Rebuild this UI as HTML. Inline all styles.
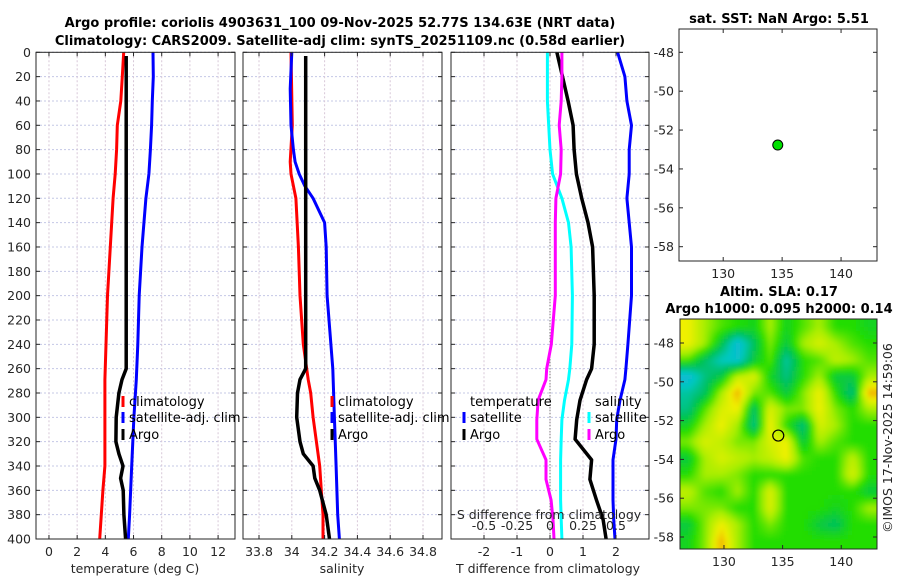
<!DOCTYPE html>
<html><head><meta charset="utf-8"><style>
html,body{margin:0;padding:0;background:#fff;}
svg{display:block;font-family:"DejaVu Sans","Liberation Sans",sans-serif;}
.t{font-size:12.5px;fill:#262626;}
.b{font-size:13px;font-weight:bold;fill:#000;}
.lg{font-size:13px;fill:#000;}
</style></head><body>
<svg id="fig" width="900" height="580" viewBox="0 0 900 580">
<defs>
<filter id="blur" x="-10%" y="-10%" width="120%" height="120%"><feGaussianBlur stdDeviation="2"/></filter>
<clipPath id="mapclip"><rect x="680" y="319" width="197" height="230"/></clipPath>
</defs>
<text class="b" x="340" y="27" text-anchor="middle">Argo profile: coriolis 4903631_100 09-Nov-2025 52.77S 134.63E (NRT data)</text>
<text class="b" x="340" y="45" text-anchor="middle">Climatology: CARS2009. Satellite-adj clim: synTS_20251109.nc (0.58d earlier)</text>
<text class="b" x="779" y="23" text-anchor="middle">sat. SST: NaN Argo: 5.51</text>
<text class="b" x="779" y="296" text-anchor="middle">Altim. SLA: 0.17</text>
<text class="b" x="779" y="313" text-anchor="middle">Argo h1000: 0.095 h2000: 0.14</text>
<text class="t" transform="translate(892,438) rotate(-90)" text-anchor="middle">©IMOS 17-Nov-2025 14:59:06</text>
<g id="plots"></g>
</svg>
<script>
// ---- data ----
const depthTicks = [0,20,40,60,80,100,120,140,160,180,200,220,240,260,280,300,320,340,360,380,400];
const tTicks = [0,2,4,6,8,10,12];
const sTicks = [33.8,34,34.2,34.4,34.6,34.8];
const sTickLabels = ["33.8","34","34.2","34.4","34.6","34.8"];
const dTTicks = [-2,-1,0,1,2];
const dSTicks = [-0.5,-0.25,0,0.25,0.5];
const dSTickLabels = ["-0.5","-0.25","0","0.25","0.5"];
const lonTicks = [130,135,140];
const latTicks = [-48,-50,-52,-54,-56,-58];

const tClimDepth = [0,20,40,60,80,100,120,160,200,240,269,340,360,380,400];
const tClim = [5.3,5.2,5.1,4.85,4.8,4.7,4.55,4.35,4.15,4.05,3.97,3.97,3.83,3.71,3.6];
const tSatDepth = [0,20,40,60,80,100,120,160,200,240,269,300,340,380,400];
const tSat = [7.38,7.4,7.33,7.28,7.2,7.09,6.88,6.6,6.4,6.3,6.2,6.03,5.87,5.72,5.63];
const tArgoDepth = [3,260,269,280,300,320,330,340,350,360,380,400];
const tArgo = [5.48,5.48,5.18,4.96,4.77,4.75,4.96,5.25,5.08,5.27,5.32,5.44];

const sClimDepth = [0,60,90,100,120,160,200,240,269,280,300,320,340,360,380,400];
const sClim = [33.995,34.003,33.99,33.995,34.025,34.04,34.05,34.07,34.1,34.115,34.13,34.15,34.17,34.18,34.19,34.19];
const sSatDepth = [0,30,60,80,90,100,110,120,140,160,200,260,300,340,380,400];
const sSat = [34.0,33.99,33.995,34.01,34.02,34.045,34.08,34.13,34.2,34.21,34.215,34.25,34.26,34.27,34.28,34.29];
const sArgoDepth = [3,260,269,280,300,320,330,340,350,360,380,400];
const sArgo = [34.085,34.085,34.05,34.035,34.03,34.05,34.07,34.13,34.14,34.17,34.21,34.23];

const diffDepth = [0,20,40,60,80,100,120,140,160,200,240,260,269,286,302,318,335,351,368,384,400];
const dTSat = [2.05,2.27,2.33,2.47,2.4,2.4,2.33,2.4,2.47,2.47,2.36,2.3,2.27,2.12,2.02,2.0,1.91,1.91,1.91,1.93,1.97];
const dTArgo = [0.21,0.38,0.55,0.7,0.73,0.8,0.96,1.15,1.29,1.34,1.34,1.26,1.11,0.91,0.81,0.76,1.26,1.21,1.41,1.61,1.7];
const dSSat = [-0.02,-0.02,-0.02,-0.01,0,0.02,0.09,0.14,0.16,0.17,0.165,0.15,0.14,0.11,0.09,0.085,0.08,0.08,0.08,0.085,0.09];
const dSArgo = [0.09,0.09,0.085,0.07,0.085,0.08,0.045,0.04,0.04,0.04,0.01,-0.025,-0.03,-0.09,-0.1,-0.1,-0.03,-0.03,0.008,0.023,0.03];

const argoLon = [134.63];
const argoLat = [-52.77];
const slaGrid = [
[0.6,0.3,0.1,0,-0.1,0.3,-0.1,0.1,0.3,0,0,-0.1],
[0.6,0.3,-0.2,-0.8,-0.3,0.2,-0.2,0.3,0.5,0.3,0.1,0],
[0.1,-0.3,-0.6,-0.7,-0.2,0.1,-0.5,0,0.1,0.4,0.3,0.1],
[-0.8,-0.4,-0.2,0.4,0.5,-0.1,-0.4,0,0.3,-0.2,-0.2,0.3],
[-0.5,-0.3,0.3,0.8,0.2,0.1,-0.2,0.2,0.6,0,-0.4,0.8],
[-0.4,0.1,0.5,0.6,-0.3,0.5,0.2,0.2,0.6,0.2,0,0.3],
[-0.1,0.3,0.6,0.3,-0.4,0.6,0,-0.4,0.5,0.3,0,0],
[0.2,0.5,0.4,0.2,0.2,0.5,0.6,-0.2,0.3,0.1,0,0],
[-0.2,0.3,0.5,0.4,0.3,0.4,0.6,0.1,0,0,0.4,0],
[0,0.3,0.3,0.2,0,0,0,0,0,0,0.5,0],
[0.4,0.1,0,0.3,0,0.5,0,0,0,0,0,-0.2],
[0.2,0.2,0.2,0,0,0.5,0,0,0,-0.1,0,0.3],
[-0.2,0.2,0.6,0.3,0,0.2,0,0,-0.2,-0.3,0,0],
[-0.1,0.2,0.8,0.3,0,0,0,0,0,0,0,0]
];

// ---- helpers ----
const NS = "http://www.w3.org/2000/svg";
const root = document.getElementById('plots');
function mk(tag, attrs, parent) {
  const e = document.createElementNS(NS, tag);
  for (const k in attrs) e.setAttribute(k, attrs[k]);
  (parent || root).appendChild(e);
  return e;
}
function lin(d0, d1, r0, r1) { return v => r0 + (v - d0) * (r1 - r0) / (d1 - d0); }

const Y0 = 52.3, Y1 = 539;
const yD = lin(0, 400, Y0, Y1);
const panels = [
  {x0:36, x1:235, sc: lin(-0.92, 13.2, 36, 235), name:'temperature'},
  {x0:243, x1:442, sc: lin(33.7024, 34.9158, 243, 442), name:'salinity'},
  {x0:451, x1:649, sc: lin(-3, 3, 451, 649), name:'difference'}
];
const xS = lin(-0.75, 0.75, 451, 649);

function grid(p, ticks) {
  for (const d of depthTicks) {
    const l = mk('line', {x1:p.x0, x2:p.x1, y1:yD(d), y2:yD(d), stroke:'#c4c8e6', 'stroke-width':1, 'stroke-dasharray':'2,2'});
    
    
  }
  for (const t of ticks) {
    const l = mk('line', {x1:p.sc(t), x2:p.sc(t), y1:Y0, y2:Y1, stroke:'#d8c8d8', 'stroke-width':1, 'stroke-dasharray':'2,2'});
    
    
  }
}
function frame(x0, y0, x1, y1, name) {
  const r = mk('rect', {x:x0, y:y0, width:x1-x0, height:y1-y0, fill:'none', stroke:'#262626', 'stroke-width':1});
  
  
}
function series(xf, vals, depths, color, name, w) {
  const pts = vals.map((v, i) => xf(v).toFixed(1) + ',' + yD(depths[i]).toFixed(1)).join(' ');
  const pl = mk('polyline', {points:pts, fill:'none', stroke:color, 'stroke-width':w||3, 'stroke-linejoin':'round'});
  
  
}
function text(x, y, s, cls, anchor, name) {
  const t = mk('text', {x:x, y:y, class:cls, 'text-anchor':anchor||'start'});
  t.textContent = s;
  
  
  return t;
}
function tickMarks(xf, ticks, x0, x1, yTop, yBot) {
  for (const t of ticks) {
    mk('line', {x1:xf(t), x2:xf(t), y1:yBot, y2:yBot-4, stroke:'#262626'});
    mk('line', {x1:xf(t), x2:xf(t), y1:yTop, y2:yTop+4, stroke:'#262626'});
  }
}
function yTickMarks(x0, x1) {
  for (const d of depthTicks) {
    mk('line', {x1:x0, x2:x0+4, y1:yD(d), y2:yD(d), stroke:'#262626'});
    mk('line', {x1:x1, x2:x1-4, y1:yD(d), y2:yD(d), stroke:'#262626'});
  }
}
function legendEntry(x, y, color, label, name) {
  const r = mk('rect', {x:x-1.5, y:y-10, width:3, height:11, fill:color});
  
  
  text(x+6, y, label, 'lg', 'start', name);
}

// panel 1: temperature
const p1 = panels[0];
grid(p1, tTicks);
series(p1.sc, tClim, tClimDepth, '#ff0000', 'temp-climatology-line');
series(p1.sc, tSat, tSatDepth, '#0000ff', 'temp-satellite-line');
series(p1.sc, tArgo, tArgoDepth, '#000000', 'temp-argo-line', 3.5);
frame(p1.x0, Y0, p1.x1, Y1, 'temperature-axes');
yTickMarks(p1.x0, p1.x1);
tickMarks(p1.sc, tTicks, p1.x0, p1.x1, Y0, Y1);
for (const d of depthTicks) text(31, yD(d)+4.5, String(d), 't', 'end', 'depth-tick-label');
for (const t of tTicks) text(p1.sc(t), 556, String(t), 't', 'middle', 'temp-tick-label');
text(135, 573, 'temperature (deg C)', 't', 'middle', 'temp-axis-title');
legendEntry(123, 406, '#ff0000', 'climatology', 'legend-temp-climatology');
legendEntry(123, 422, '#0000ff', 'satellite-adj. clim', 'legend-temp-satellite');
legendEntry(123, 439, '#000000', 'Argo', 'legend-temp-argo');

// panel 2: salinity
const p2 = panels[1];
grid(p2, sTicks);
series(p2.sc, sClim, sClimDepth, '#ff0000', 'sal-climatology-line');
series(p2.sc, sSat, sSatDepth, '#0000ff', 'sal-satellite-line');
series(p2.sc, sArgo, sArgoDepth, '#000000', 'sal-argo-line', 3.5);
frame(p2.x0, Y0, p2.x1, Y1, 'salinity-axes');
yTickMarks(p2.x0, p2.x1);
tickMarks(p2.sc, sTicks, p2.x0, p2.x1, Y0, Y1);
sTicks.forEach((t, i) => text(p2.sc(t), 556, sTickLabels[i], 't', 'middle', 'sal-tick-label'));
text(342, 573, 'salinity', 't', 'middle', 'sal-axis-title');
legendEntry(332, 406, '#ff0000', 'climatology', 'legend-sal-climatology');
legendEntry(332, 422, '#0000ff', 'satellite-adj. clim', 'legend-sal-satellite');
legendEntry(332, 439, '#000000', 'Argo', 'legend-sal-argo');

// panel 3: differences
const p3 = panels[2];
grid(p3, dTTicks);
const z = mk('line', {x1:p3.sc(0), x2:p3.sc(0), y1:yD(60), y2:Y1, stroke:'#555', 'stroke-width':1, 'stroke-dasharray':'1,2'});


series(p3.sc, dTSat, diffDepth, '#0000ff', 'dT-satellite-line');
series(p3.sc, dTArgo, diffDepth, '#000000', 'dT-argo-line', 3.5);
series(xS, dSSat, diffDepth, '#00ffff', 'dS-satellite-line');
series(xS, dSArgo, diffDepth, '#ff00ff', 'dS-argo-line');
frame(p3.x0, Y0, p3.x1, Y1, 'difference-axes');
yTickMarks(p3.x0, p3.x1);
tickMarks(p3.sc, dTTicks, p3.x0, p3.x1, Y0, Y1);
for (const t of dTTicks) text(p3.sc(t), 556, String(t), 't', 'middle', 'dT-tick-label');
dSTicks.forEach((t, i) => text(xS(t), 530, dSTickLabels[i], 't', 'middle', 'dS-tick-label'));
text(549, 519, 'S difference from climatology', 't', 'middle', 'dS-axis-title');
text(548, 573, 'T difference from climatology', 't', 'middle', 'dT-axis-title');
text(470, 406, 'temperature', 'lg', 'start', 'legend-temp-header');
legendEntry(464, 422, '#0000ff', 'satellite', 'legend-dT-satellite');
legendEntry(464, 439, '#000000', 'Argo', 'legend-dT-argo');
text(595, 406, 'salinity', 'lg', 'start', 'legend-sal-header');
legendEntry(589, 422, '#00ffff', 'satellite', 'legend-dS-satellite');
legendEntry(589, 439, '#ff00ff', 'Argo', 'legend-dS-argo');

// map 1: SST
const mx = lin(126.25, 143.05, 679, 877);
const my1 = lin(-48, -58, 52.3, 246.7);
frame(679, 29, 877, 261, 'sst-map-axes');
for (const t of lonTicks) { mk('line', {x1:mx(t), x2:mx(t), y1:261, y2:257, stroke:'#262626'}); mk('line', {x1:mx(t), x2:mx(t), y1:29, y2:33, stroke:'#262626'}); text(mx(t), 278, String(t), 't', 'middle', 'sst-lon-tick'); }
for (const t of latTicks) { mk('line', {x1:679, x2:683, y1:my1(t), y2:my1(t), stroke:'#262626'}); mk('line', {x1:877, x2:873, y1:my1(t), y2:my1(t), stroke:'#262626'}); text(674, my1(t)+4.5, String(t), 't', 'end', 'sst-lat-tick'); }
argoLon.forEach((lo, i) => {
  const c = mk('circle', {cx:mx(lo), cy:my1(argoLat[i]), r:5, fill:'#00e000', stroke:'#000', 'stroke-width':1});
  
  
});

// map 2: SLA
const my2 = lin(-48, -58, 343, 537);
const mx2 = lin(126.25, 143.05, 680, 877);
function slaColor(v) {
  const stops = [[-1,[32,168,232]],[-0.6,[0,200,192]],[-0.3,[0,192,96]],[0,[34,221,0]],[0.3,[168,238,0]],[0.6,[240,240,0]],[0.8,[240,176,0]],[1,[232,112,16]]];
  v = Math.max(-1, Math.min(1, v));
  for (let i = 1; i < stops.length; i++) {
    if (v <= stops[i][0]) {
      const a = stops[i-1], b = stops[i], f = (v - a[0]) / (b[0] - a[0]);
      const c = a[1].map((x, k) => Math.round(x + (b[1][k] - x) * f));
      return 'rgb(' + c.join(',') + ')';
    }
  }
  return 'rgb(232,112,16)';
}
const clipG = mk('g', {'clip-path':'url(#mapclip)'});


const blurG = mk('g', {filter:'url(#blur)'}, clipG);
const nR = slaGrid.length, nC = slaGrid[0].length;
const cw = 197 / nC, ch = 230 / nR;
function slaAt(px, py) {
  // bilinear interpolation between cell centers
  let gx = (px - 680) / cw - 0.5, gy = (py - 319) / ch - 0.5;
  gx = Math.max(0, Math.min(nC - 1, gx)); gy = Math.max(0, Math.min(nR - 1, gy));
  const i0 = Math.floor(gx), j0 = Math.floor(gy);
  const i1 = Math.min(nC - 1, i0 + 1), j1 = Math.min(nR - 1, j0 + 1);
  const fx = gx - i0, fy = gy - j0;
  const a = slaGrid[j0][i0] * (1 - fx) + slaGrid[j0][i1] * fx;
  const b = slaGrid[j1][i0] * (1 - fx) + slaGrid[j1][i1] * fx;
  return a * (1 - fy) + b * fy;
}
const step = 4;
for (let py = 311; py < 557; py += step) {
  for (let px = 672; px < 885; px += step) {
    const cell = mk('rect', {x:px, y:py, width:step + 0.5, height:step + 0.5, fill:slaColor(slaAt(px + step/2, py + step/2))}, blurG);
    
    
  }
}
frame(680, 319, 877, 549, 'sla-map-axes');
for (const t of lonTicks) { mk('line', {x1:mx2(t), x2:mx2(t), y1:549, y2:545, stroke:'#262626'}); text(mx2(t), 566, String(t), 't', 'middle', 'sla-lon-tick'); }
for (const t of latTicks) { mk('line', {x1:680, x2:684, y1:my2(t), y2:my2(t), stroke:'#262626'}); mk('line', {x1:877, x2:873, y1:my2(t), y2:my2(t), stroke:'#262626'}); text(674, my2(t)+4.5, String(t), 't', 'end', 'sla-lat-tick'); }
argoLon.forEach((lo, i) => {
  const c = mk('circle', {cx:mx2(lo), cy:my2(argoLat[i]), r:5.5, fill:'none', stroke:'#000', 'stroke-width':1.2});
  
  
});
</script>
</body></html>
